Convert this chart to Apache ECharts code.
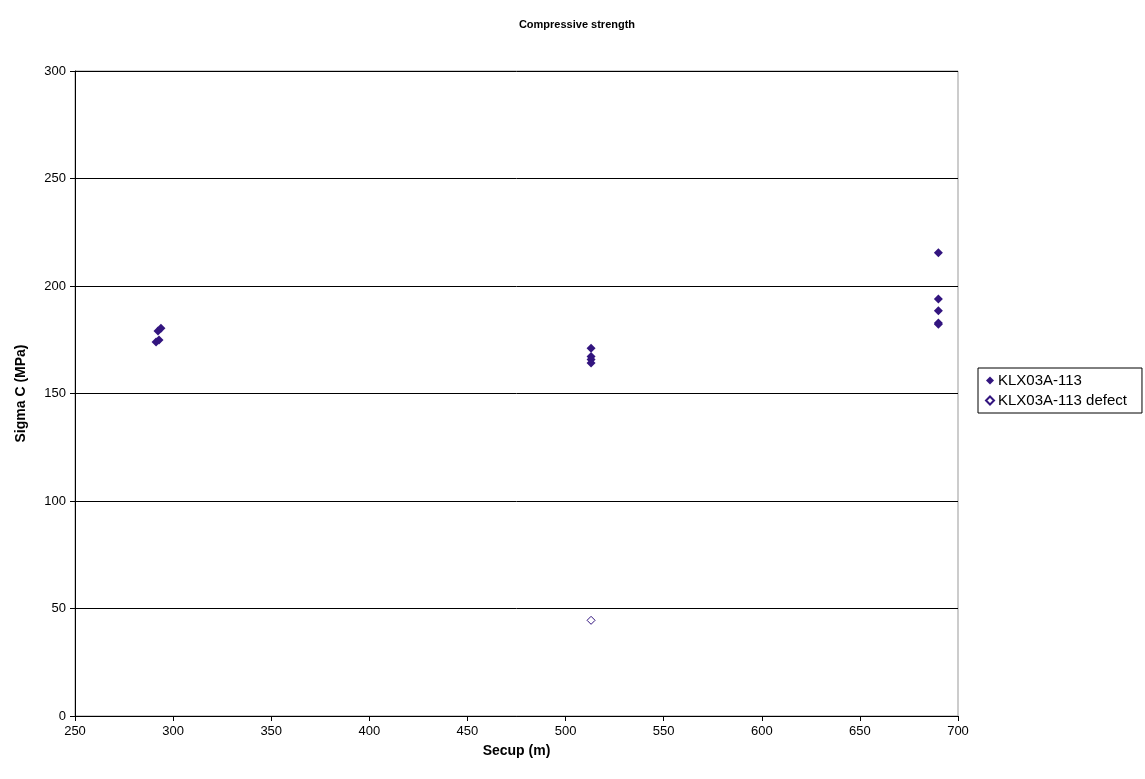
<!DOCTYPE html>
<html>
<head>
<meta charset="utf-8">
<script src="https://cdn.jsdelivr.net/npm/echarts@6/dist/echarts.min.js"></script>
<style>html,body{margin:0;padding:0;background:#fff}#c{width:1145px;height:779px}</style>
</head>
<body>
<div id="c"></div>
<script>
const seriesNames = ['KLX03A-113', 'KLX03A-113 defect'];
const mainSecup = [291.3, 292.8, 292.3, 293.8, 513, 513, 513, 513, 690, 690, 690, 690, 690];
const mainSigma = [174.0, 174.9, 179.1, 180.3, 171, 167.2, 165.8, 164.2, 215.5, 194, 188.5, 182.8, 182.2];
const defectSecup = [513];
const defectSigma = [44.5];
const xTicks = [250, 300, 350, 400, 450, 500, 550, 600, 650, 700];
const yTicks = [0, 50, 100, 150, 200, 250, 300];

const color = '#33157f';
const font = 'Liberation Sans, Arial, sans-serif';
const chart = echarts.init(document.getElementById('c'));
chart.setOption({
  animation: false,
  backgroundColor: '#fff',
  title: {
    text: 'Compressive strength', left: 572, top: 14, textAlign: 'center',
    textStyle: {fontFamily: font, fontSize: 11, fontWeight: 'bold', color: '#000'}
  },
  grid: {left: 75, right: 187, top: 71, bottom: 63, show: true, borderColor: '#999', borderWidth: 1, backgroundColor: '#fff'},
  legend: {
    orient: 'vertical', left: 978, top: 368,
    borderColor: '#000', borderWidth: 1, padding: [5, 15, 5, 7], itemGap: 5,
    itemWidth: 8, itemHeight: 8,
    textStyle: {fontFamily: font, fontSize: 15, color: '#000', padding: [0, 0, 0, -1]},
    data: [{name: seriesNames[0], icon: 'diamond'}, {name: seriesNames[1], icon: 'diamond'}]
  },
  xAxis: {
    type: 'value', min: xTicks[0], max: xTicks[xTicks.length - 1], interval: 50,
    name: 'Secup (m)', nameLocation: 'middle', nameGap: 28,
    nameTextStyle: {fontFamily: font, fontSize: 14, fontWeight: 'bold', color: '#000'},
    axisLine: {show: true, onZero: false, lineStyle: {color: '#000'}},
    axisTick: {show: true, length: 5, lineStyle: {color: '#000'}},
    axisLabel: {fontFamily: font, fontSize: 13, color: '#000', margin: 9},
    splitLine: {show: false}
  },
  yAxis: {
    type: 'value', min: yTicks[0], max: yTicks[yTicks.length - 1], interval: 50,
    name: 'Sigma C (MPa)', nameLocation: 'middle', nameGap: 47,
    nameTextStyle: {fontFamily: font, fontSize: 14, fontWeight: 'bold', color: '#000'},
    axisLine: {show: true, lineStyle: {color: '#000'}},
    axisTick: {show: true, length: 5, lineStyle: {color: '#000'}},
    axisLabel: {fontFamily: font, fontSize: 13, color: '#000', margin: 9},
    splitLine: {show: true, lineStyle: {color: '#000', width: 1}}
  },
  series: [
    {
      name: seriesNames[0], type: 'scatter', symbol: 'diamond', symbolSize: 9,
      itemStyle: {color: color, opacity: 1},
      data: mainSecup.map((x, i) => [x, mainSigma[i]])
    },
    {
      name: seriesNames[1], type: 'scatter', symbol: 'diamond', symbolSize: 8,
      itemStyle: {color: '#fff', borderColor: color, borderWidth: 1, opacity: 1},
      data: defectSecup.map((x, i) => [x, defectSigma[i]])
    }
  ]
});
</script>
</body>
</html>
